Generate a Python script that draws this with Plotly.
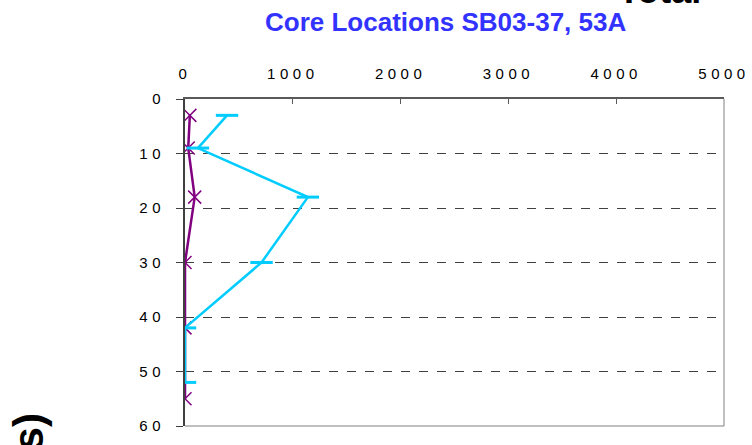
import plotly.graph_objects as go

# ---- data ----
depth_cyan = [3, 9, 18, 30, 42, 52]
conc_cyan = [390, 120, 1140, 710, 0, 0]
depth_purple = [3, 9, 18, 30, 42, 55]
conc_purple = [45, 30, 90, 0, 0, 0]
x_ticks = [0, 1000, 2000, 3000, 4000, 5000]
y_ticks = [0, 10, 20, 30, 40, 50, 60]
subtitle = "Core Locations SB03-37, 53A"
title_fragment = "Total"
ylabel_fragment = "s)"

W, H = 752, 445
L, R, T, B = 185, 26, 99, 11
pw, ph = W - L - R, H - T - B


def px_x(X):
    return (X - L) / pw


def px_y(Y):
    return (H - B - Y) / ph


fig = go.Figure()
fig.add_trace(go.Scatter(
    x=conc_purple, y=depth_purple, mode="lines+markers", name="SB03-53A",
    line=dict(color="#800080", width=2.5),
    marker=dict(symbol="x-thin", size=13, line=dict(color="#800080", width=1.5)),
))
fig.add_trace(go.Scatter(
    x=conc_cyan, y=depth_cyan, mode="lines+markers", name="SB03-37",
    line=dict(color="#00CCFF", width=2.5),
    marker=dict(symbol="line-ew", size=16, line=dict(color="#00CCFF", width=3)),
))

fig.update_layout(
    width=W, height=H,
    margin=dict(l=L, r=R, t=T, b=B, pad=0),
    paper_bgcolor="white", plot_bgcolor="white",
    showlegend=False,
    font=dict(family="Liberation Sans, Arial, sans-serif", color="black"),
    xaxis=dict(
        range=[0, 5000], side="top", tickvals=x_ticks,
        showgrid=False, zeroline=False,
        showline=True, linecolor="#5a5a5a", linewidth=2,
        ticks="inside", ticklen=5, tickcolor="#5a5a5a", tickwidth=1,
        tickfont=dict(size=15, color="black"), ticklabelstandoff=12,
    ),
    yaxis=dict(
        range=[60, 0], tickvals=y_ticks,
        showgrid=True, gridcolor="#404040", gridwidth=1, griddash="dash",
        zeroline=False,
        showline=True, linecolor="#404040", linewidth=2,
        ticks="outside", ticklen=7, tickcolor="#404040", tickwidth=1,
        tickfont=dict(size=15, color="black"), ticklabelstandoff=8,
    ),
    shapes=[
        dict(type="line", xref="paper", yref="paper", x0=1, x1=1, y0=0, y1=1,
             line=dict(color="#808080", width=1)),
        dict(type="line", xref="paper", yref="paper", x0=0, x1=1, y0=0, y1=0,
             line=dict(color="#808080", width=1)),
    ],
    annotations=[
        dict(text=f"<b>{subtitle}</b>", xref="paper", yref="paper",
             x=px_x(446), y=px_y(20), xanchor="center", yanchor="middle",
             showarrow=False, font=dict(size=26, color="#3333FF")),
        dict(text=f"<b>{title_fragment}</b>", xref="paper", yref="paper",
             x=px_x(618), y=px_y(11), xanchor="left", yanchor="bottom",
             showarrow=False, font=dict(size=36, color="black")),
        dict(text=f"<b>{ylabel_fragment}</b>", xref="paper", yref="paper",
             x=px_x(28), y=px_y(419), xanchor="center", yanchor="top",
             textangle=-90, showarrow=False, font=dict(size=42, color="black")),
    ],
)

post = """
document.documentElement.style.margin='0';
document.body.style.margin='0';
document.body.style.padding='0';
document.querySelectorAll('.xtick text, .ytick text').forEach(function(t){
  t.setAttribute('letter-spacing','4.5px');
});
"""

fig.write_html("out.html", post_script=post, config={"displayModeBar": False})
